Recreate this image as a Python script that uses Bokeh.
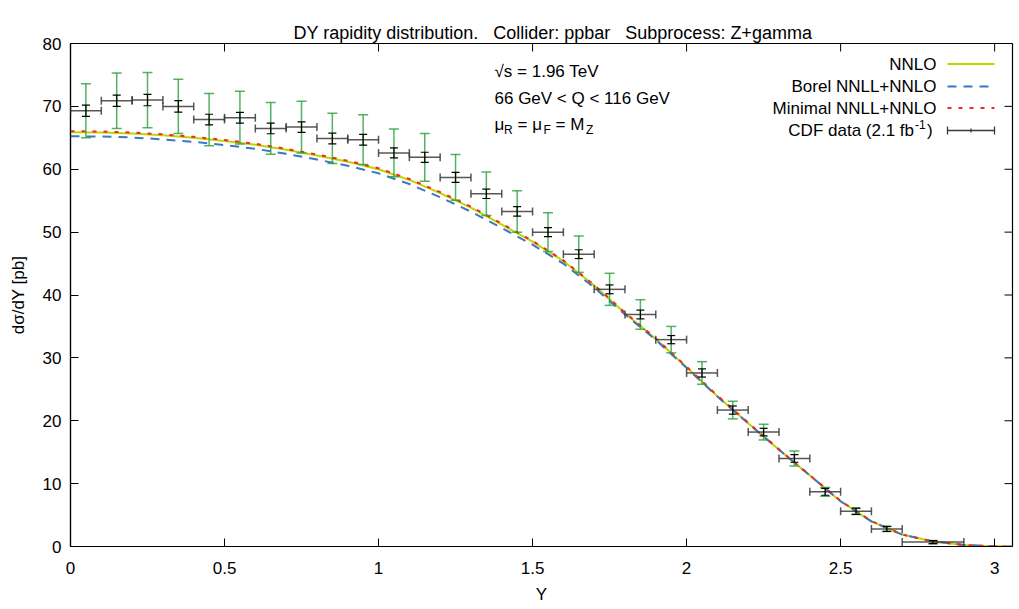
from bokeh.plotting import figure
from bokeh.models import Range1d, FixedTicker, ColumnDataSource, Whisker, TeeHead, Label, LinearAxis, Title
from bokeh.embed import file_html
from bokeh.resources import INLINE

# ---------------- data ----------------
title_text = "DY rapidity distribution.\u00a0\u00a0\u00a0Collider: ppbar\u00a0\u00a0\u00a0Subprocess: Z+gamma"
x_ticks = [0, 0.5, 1, 1.5, 2, 2.5, 3]
x_tick_labels = ["0", "0.5", "1", "1.5", "2", "2.5", "3"]
y_ticks = [0, 10, 20, 30, 40, 50, 60, 70, 80]
y_tick_labels = ["0", "10", "20", "30", "40", "50", "60", "70", "80"]

# CDF data (2.1 fb^-1)
cdf_y = [0.05, 0.15, 0.25, 0.35, 0.45, 0.55, 0.65, 0.75, 0.85, 0.95,
         1.05, 1.15, 1.25, 1.35, 1.45, 1.55, 1.65, 1.75, 1.85, 1.95,
         2.05, 2.15, 2.25, 2.35, 2.45, 2.55, 2.65, 2.8]
cdf_halfbin = [0.05] * 27 + [0.1]
cdf_val = [69.3, 70.9, 71.0, 70.0, 67.9, 68.2, 66.5, 66.7, 64.9, 64.7,
           62.6, 61.9, 58.7, 56.1, 53.3, 50.0, 46.5, 40.9, 36.9, 32.9,
           27.6, 21.7, 18.2, 14.0, 8.7, 5.6, 2.8, 0.7]
cdf_stat = [0.9, 0.9, 0.9, 0.9, 0.85, 0.85, 0.85, 0.85, 0.85, 0.85,
            0.8, 0.8, 0.8, 0.75, 0.75, 0.7, 0.7, 0.7, 0.7, 0.65,
            0.65, 0.65, 0.6, 0.6, 0.55, 0.5, 0.4, 0.25]
cdf_tot = [4.3, 4.4, 4.4, 4.3, 4.15, 4.2, 4.1, 4.1, 4.0, 3.95,
           3.8, 3.8, 3.65, 3.45, 3.3, 3.1, 2.9, 2.55, 2.35, 2.1,
           1.8, 1.4, 1.25, 1.2, 0.7, 0.5, 0.4, 0.25]

# theory curves
th_y = [0.0, 0.1, 0.2, 0.3, 0.4, 0.5, 0.6, 0.7, 0.8, 0.9,
        1.0, 1.1, 1.2, 1.3, 1.4, 1.5, 1.6, 1.7, 1.8, 1.9,
        2.0, 2.1, 2.2, 2.3, 2.4, 2.5, 2.6, 2.7, 2.8, 2.9, 3.0, 3.058]
nnlo = [65.9, 65.85, 65.7, 65.4, 65.0, 64.5, 63.9, 63.1, 62.2, 61.2,
        60.0, 58.3, 56.2, 53.9, 51.2, 48.5, 45.4, 41.5, 37.1, 33.0,
        28.5, 23.9, 19.6, 15.4, 11.3, 7.2, 4.0, 1.9, 0.8, 0.25, 0.02, 0.0]
borel = [65.25, 65.2, 65.05, 64.75, 64.35, 63.85, 63.25, 62.45, 61.55, 60.55,
         59.35, 57.65, 55.55, 53.25, 50.65, 48.0, 45.0, 41.2, 36.9, 32.85,
         28.4, 23.85, 19.6, 15.4, 11.3, 7.2, 4.0, 1.9, 0.8, 0.25, 0.02, 0.0]
minimal = [66.05, 66.0, 65.85, 65.55, 65.15, 64.65, 64.05, 63.25, 62.35, 61.35,
           60.15, 58.45, 56.35, 54.05, 51.35, 48.6, 45.5, 41.6, 37.2, 33.1,
           28.6, 24.0, 19.7, 15.45, 11.35, 7.25, 4.05, 1.9, 0.8, 0.25, 0.02, 0.0]

# ---------------- styling ----------------
FONT = "Liberation Sans"
NNLO_C = "#c2d400"
BOREL_C = "#3a78c6"
MIN_C = "#f02828"
GREEN = "#27a03a"

X0, X1 = 0.0, 3.058
Y0, Y1 = 0.0, 80.0
p = figure(width=1014, height=609, x_range=Range1d(X0, X1), y_range=Range1d(Y0, Y1),
           output_backend="svg", toolbar_location=None,
           min_border_left=70, min_border_right=2, min_border_top=43, min_border_bottom=63,
           x_axis_label="Y", y_axis_label="dσ/dY [pb]")
p.background_fill_color = "white"
p.border_fill_color = "white"
p.outline_line_color = "black"
p.outline_line_width = 1.2
p.xgrid.visible = False
p.ygrid.visible = False
p.title.visible = False

bottom_ax = p.below[0]
left_ax = p.left[0]


def style_axis(ax, ticks, labels):
    ax.ticker = FixedTicker(ticks=ticks)
    ax.major_label_overrides = {t: l for t, l in zip(ticks, labels)}
    ax.major_tick_in = 8
    ax.major_tick_out = 0
    ax.minor_tick_in = 0
    ax.minor_tick_out = 0
    ax.major_tick_line_color = "black"
    ax.major_tick_line_width = 1
    ax.axis_line_color = "black"
    ax.axis_line_width = 1.2
    ax.major_label_text_font = FONT
    ax.major_label_text_color = "black"
    ax.major_label_text_font_size = "17px"
    ax.axis_label_text_font = FONT
    ax.axis_label_text_font_style = "normal"
    ax.axis_label_text_color = "black"
    ax.axis_label_text_font_size = "17px"


style_axis(bottom_ax, x_ticks, x_tick_labels)
style_axis(left_ax, y_ticks, y_tick_labels)
bottom_ax.major_label_standoff = 15
bottom_ax.axis_label_standoff = 8
left_ax.major_label_standoff = 9
left_ax.axis_label_standoff = 12

# title first, then an invisible spacer (no ticks, no labels) that ends up
# between the frame and the title
main_title = Title(text=title_text, align="left", offset=223, text_font=FONT,
                   text_font_size="18px", text_font_style="normal", text_color="black",
                   standoff=2)
p.add_layout(main_title, "above")

spacer = LinearAxis(ticker=FixedTicker(ticks=[]), axis_line_color=None,
                    major_tick_line_color=None, minor_tick_line_color=None,
                    major_tick_in=0, major_tick_out=20, minor_tick_in=0, minor_tick_out=0,
                    major_label_standoff=0)
p.add_layout(spacer, "above")

# ---------------- decoration helpers (pixel -> data) ----------------
FL, FR, FT, FB = 70.0, 1012.0, 43.0, 546.0


def dx(px):
    return X0 + (px - FL) / (FR - FL) * (X1 - X0)


def dy(py):
    return Y0 + (FB - py) / (FB - FT) * (Y1 - Y0)


# mirror ticks on top and right edges
tick_len_y = dy(FT) - dy(FT + 8)
tick_len_x = dx(FR) - dx(FR - 8)
p.segment(x_ticks, [Y1] * len(x_ticks), x_ticks, [Y1 - tick_len_y] * len(x_ticks),
          line_color="black", line_width=1)
p.segment([X1] * len(y_ticks), y_ticks, [X1 - tick_len_x] * len(y_ticks), y_ticks,
          line_color="black", line_width=1)

# ---------------- theory curves ----------------
p.line(th_y, nnlo, line_color=NNLO_C, line_width=2)
p.line(th_y, borel, line_color=BOREL_C, line_width=2, line_dash="9 7")
p.line(th_y, minimal, line_color=MIN_C, line_width=2, line_dash="4 7")

# ---------------- data points ----------------
src = ColumnDataSource(dict(
    x=cdf_y,
    y=cdf_val,
    xl=[c - h for c, h in zip(cdf_y, cdf_halfbin)],
    xr=[c + h for c, h in zip(cdf_y, cdf_halfbin)],
    lo_tot=[v - e for v, e in zip(cdf_val, cdf_tot)],
    hi_tot=[v + e for v, e in zip(cdf_val, cdf_tot)],
    lo_stat=[v - e for v, e in zip(cdf_val, cdf_stat)],
    hi_stat=[v + e for v, e in zip(cdf_val, cdf_stat)],
))

w_tot = Whisker(source=src, base="x", lower="lo_tot", upper="hi_tot", dimension="height",
                line_color=GREEN, line_width=1.5, line_alpha=0.8, level="annotation",
                lower_head=TeeHead(size=10, line_color=GREEN, line_width=1.5, line_alpha=0.8),
                upper_head=TeeHead(size=10, line_color=GREEN, line_width=1.5, line_alpha=0.8))
w_x = Whisker(source=src, base="y", lower="xl", upper="xr", dimension="width",
              line_color="#3a3a3a", line_width=1.5, line_alpha=0.85, level="annotation",
              lower_head=TeeHead(size=8, line_color="#3a3a3a", line_width=1.5, line_alpha=0.85),
              upper_head=TeeHead(size=8, line_color="#3a3a3a", line_width=1.5, line_alpha=0.85))
w_stat = Whisker(source=src, base="x", lower="lo_stat", upper="hi_stat", dimension="height",
                 line_color="black", line_width=1.2, level="annotation",
                 lower_head=TeeHead(size=8, line_color="black", line_width=1.2),
                 upper_head=TeeHead(size=8, line_color="black", line_width=1.2))
p.add_layout(w_tot)
p.add_layout(w_x)
p.add_layout(w_stat)


def label(px, py, text, size="17px", align="left"):
    p.add_layout(Label(x=dx(px), y=dy(py), text=text, text_font=FONT, text_font_size=size,
                       text_align=align, text_baseline="middle", text_color="black"))


# ---------------- legend ----------------
rows = [63.5, 86, 107.5, 130]
label(936, rows[0], "NNLO", align="right")
label(936, rows[1], "Borel NNLL+NNLO", align="right")
label(936, rows[2], "Minimal NNLL+NNLO", align="right")
label(913.5, rows[3], "CDF data (2.1 fb", align="right")
label(914.5, rows[3] - 6, "-1", size="12px")
label(926.5, rows[3], ")")

sx0, sx1 = dx(947), dx(994)
p.line([sx0, sx1], [dy(rows[0])] * 2, line_color=NNLO_C, line_width=2)
p.line([sx0, sx1], [dy(rows[1])] * 2, line_color=BOREL_C, line_width=2, line_dash="9 7")
p.line([sx0, sx1], [dy(rows[2])] * 2, line_color=MIN_C, line_width=2, line_dash="4 7")
p.line([sx0, sx1], [dy(rows[3])] * 2, line_color="#3a3a3a", line_width=1.3)
p.segment([sx0, sx1, dx(970.5)], [dy(rows[3] - 4), dy(rows[3] - 4), dy(rows[3] - 2)],
          [sx0, sx1, dx(970.5)], [dy(rows[3] + 4), dy(rows[3] + 4), dy(rows[3] + 2)],
          line_color="#3a3a3a", line_width=1.3)

# ---------------- annotations ----------------
label(494, 71, "√s = 1.96 TeV")
label(494, 97.5, "66 GeV < Q < 116 GeV")
label(494, 124, "μ")
label(503.5, 129, "R", size="12px")
label(517, 124, "= μ")
label(543, 129, "F", size="12px")
label(555, 124, "= M")
label(585.5, 129, "Z", size="12px")

open("out.html", "w").write(file_html(p, INLINE))
